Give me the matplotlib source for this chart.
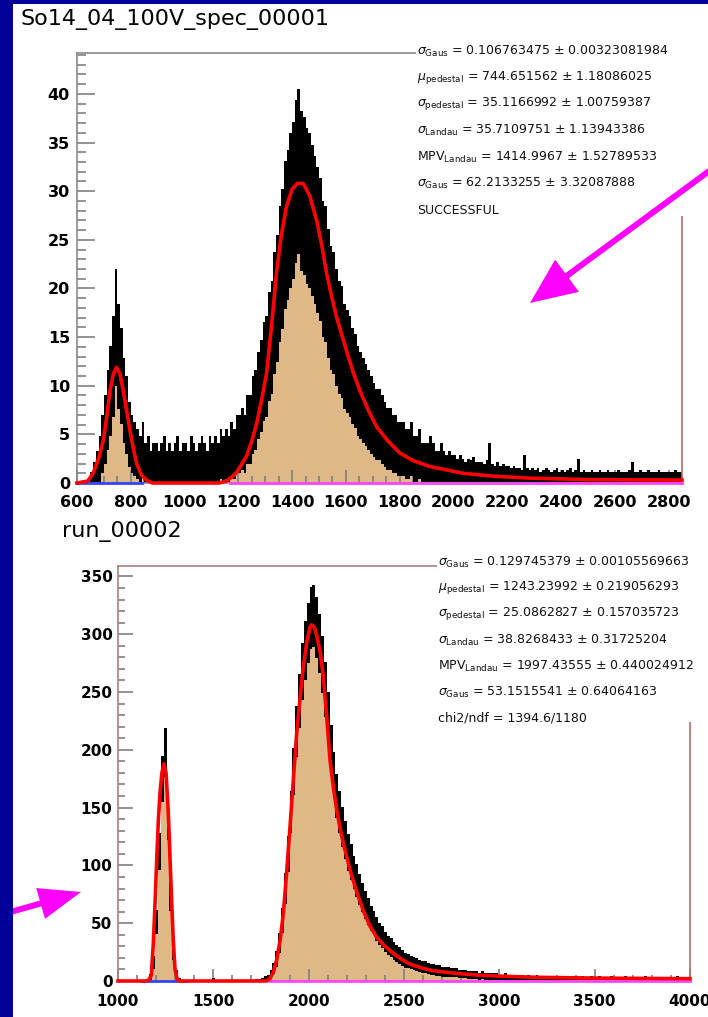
import numpy as np
import matplotlib.pyplot as plt
from matplotlib.patches import Rectangle, FancyArrow

W, H = 708, 1017

# ---- upper spectrum: So14_04_100V_spec_00001 (10-unit bins, 600..2850)
top_title = 'So14_04_100V_spec_00001'
top_edges = np.arange(600, 2851, 10)
top_counts = [
    0, 0, 0, 0, 0, 0.3, 0.8, 1.5, 2.5, 4,
    5.5, 7.5, 9.5, 12, 16, 13, 11, 8.5, 7, 5,
    4, 3.5, 3, 2.5, 3.5, 2, 2.5, 1.5, 2, 2,
    1.5, 2, 2.5, 1.5, 2, 1.5, 2, 2.5, 1.5, 2,
    2, 1.5, 2.5, 2, 1.5, 2, 2.5, 2, 1.5, 2.5,
    2, 2.5, 2, 3, 2.5, 3, 2.5, 3.5, 3, 4,
    4, 4.5, 4, 5.5, 5.5, 7, 7.5, 9, 10, 11.5,
    12, 14, 15, 17.5, 19, 21.5, 23, 25.5, 26.5, 28,
    29, 31, 32, 30, 29.5, 28.5, 28, 27, 26, 25,
    24, 22, 21.5, 19.5, 18, 17.5, 16, 15, 14.5, 13,
    12.5, 12, 11, 10.5, 9.5, 9, 8.5, 8, 7.5, 7,
    6.5, 6, 6, 5.5, 5, 4.5, 4.5, 4, 4, 3.5,
    3.5, 3.5, 3, 3, 3.5, 2.5, 2.5, 3, 2, 2,
    2, 2.5, 2, 1.5, 1.5, 2, 1.5, 1.2, 1.5, 1.2,
    1.2, 1, 1.2, 1, 0.8, 1, 0.9, 1.1, 0.8, 0.8,
    0.8, 0.7, 0.9, 2, 0.7, 0.6, 0.8, 0.6, 0.7, 0.6,
    0.6, 0.5, 0.6, 0.5, 0.5, 0.4, 1.2, 0.5, 0.4, 0.5,
    0.4, 0.5, 0.3, 0.4, 0.5, 0.4, 0.3, 0.4, 0.5, 0.3,
    0.4, 0.3, 0.4, 0.5, 0.3, 0.4, 1, 0.3, 0.4, 0.3,
    0.3, 0.4, 0.3, 0.3, 0.4, 0.3, 0.3, 0.4, 0.3, 0.3,
    0.3, 0.4, 0.3, 0.3, 0.3, 0.4, 0.8, 0.3, 0.3, 0.4,
    0.3, 0.3, 0.4, 0.3, 0.3, 0.3, 0.4, 0.3, 0.3, 0.3,
    0.3, 0.3, 0.4, 0.3, 0.3,
]
top_fit_x = [600, 640, 660, 680, 698, 710, 723, 735, 747, 760, 772, 785, 797,
             810, 822, 840, 859, 880, 1130, 1156, 1175, 1194, 1212, 1231, 1250,
             1268, 1287, 1305, 1323, 1342, 1360, 1379, 1400, 1420, 1441, 1466,
             1491, 1510, 1528, 1546, 1565, 1584, 1602, 1627, 1652, 1683, 1714,
             1757, 1800, 1850, 1912, 2035, 2150, 2284, 2500, 2850]
top_fit_y = [0, 0.2, 1.0, 2.5, 4.4, 6.7, 9.5, 11.2, 11.9, 11.2, 9.5, 7.4, 5.4,
             3.5, 2.0, 0.8, 0.3, 0, 0, 0.2, 0.6, 1.1, 1.9, 2.8, 4.3,
             6.1, 8.6, 11.3, 16, 21.6, 25.5, 28.4, 30.2, 30.8, 30.8, 29.5,
             27, 24.5, 21.6, 19.3, 17.1, 15.3, 13.6, 11.4, 9.5, 7.5, 5.8,
             4.3, 3.1, 2.3, 1.7, 1.0, 0.7, 0.5, 0.35, 0.3]
top_ped_range = [600, 840]
top_landau_range = [1170, 2850]
top_xticks = [600, 800, 1000, 1200, 1400, 1600, 1800, 2000, 2200, 2400, 2600, 2800]
top_yticks = [0, 5, 10, 15, 20, 25, 30, 35, 40]
top_stats = [
    r'$\sigma_{\mathrm{Gaus}}$ = 0.106763475 ± 0.00323081984',
    r'$\mu_{\mathrm{pedestal}}$ = 744.651562 ± 1.18086025',
    r'$\sigma_{\mathrm{pedestal}}$ = 35.1166992 ± 1.00759387',
    r'$\sigma_{\mathrm{Landau}}$ = 35.7109751 ± 1.13943386',
    r'MPV$_{\mathrm{Landau}}$ = 1414.9967 ± 1.52789533',
    r'$\sigma_{\mathrm{Gaus}}$ = 62.2133255 ± 3.32087888',
    'SUCCESSFUL',
]

# ---- lower spectrum: run_00002 (15-unit bins, 1000..4000)
bot_title = 'run_00002'
bot_edges = np.arange(1000, 4001, 15)
bot_counts = [
    0, 0, 0, 0, 0, 0, 0, 0, 0, 0,
    0.5, 3.5, 16, 51, 112, 175, 198, 140, 73, 26,
    6, 1, 0.3, 0, 0, 0, 0, 0, 0, 0,
    0, 0, 0, 1, 0, 0, 0, 0, 0, 0,
    0, 0, 0, 0, 0, 0, 0, 0, 0.5, 0.5,
    1, 2, 3, 6, 11, 19, 33, 52, 80, 110,
    146, 181, 216, 242, 268, 286, 301, 314, 316, 306,
    292, 274, 252, 227, 200, 178, 160, 146, 133, 122,
    111, 103, 94, 87, 79, 72, 66, 60, 54, 50,
    45, 41, 38, 34, 31, 29, 26, 24, 22, 20,
    18, 17, 16, 15, 14, 13, 12, 12, 11, 10,
    10, 9, 9, 8, 8, 8, 7, 7, 7, 6,
    6, 6, 5, 5, 5, 5, 4, 5, 4, 4,
    4, 4, 4, 3, 3, 4, 3, 3, 3, 3,
    3, 3, 2, 3, 2, 2, 3, 2, 2, 2,
    2, 2, 2, 2, 2, 1, 2, 2, 1, 2,
    2, 1, 2, 1, 1, 2, 1, 1, 2, 1,
    1, 1, 2, 1, 1, 1, 1, 2, 1, 1,
    1, 1, 1, 1, 2, 1, 1, 1, 1, 1,
    1, 1, 1, 1, 1, 2, 1, 1, 1, 1,
]
bot_fit_x = [1000, 1140, 1160, 1175, 1185, 1195, 1203, 1212, 1220, 1230, 1241,
             1252, 1264, 1272, 1281, 1290, 1299, 1310, 1320, 1780, 1797, 1815,
             1832, 1850, 1867, 1885, 1902, 1920, 1937, 1955, 1972, 1990, 2007,
             2016, 2030, 2042, 2060, 2077, 2095, 2112, 2130, 2147, 2165, 2182,
             2200, 2217, 2250, 2286, 2320, 2356, 2400, 2444, 2490, 2531, 2600,
             2650, 2725, 2800, 2900, 3000, 3200, 3500, 4000]
bot_fit_y = [0, 0, 0.5, 5, 32, 70, 105, 140, 162, 180, 188,
             180, 145, 110, 70, 35, 10, 2, 0, 0, 2, 8,
             18, 35, 58, 95, 133, 175, 214, 245, 272, 293, 306,
             308, 306, 299, 285, 263, 228, 191, 167, 148, 132, 119,
             107, 96, 78, 61, 48, 38, 30, 24, 18.5, 14.6, 11,
             9, 7.5, 6.2, 5, 4.2, 3.2, 2.5, 2]
bot_ped_range = [1125, 1360]
bot_landau_range = [1797, 4000]
bot_xticks = [1000, 1500, 2000, 2500, 3000, 3500, 4000]
bot_yticks = [0, 50, 100, 150, 200, 250, 300, 350]
bot_stats = [
    r'$\sigma_{\mathrm{Gaus}}$ = 0.129745379 ± 0.00105569663',
    r'$\mu_{\mathrm{pedestal}}$ = 1243.23992 ± 0.219056293',
    r'$\sigma_{\mathrm{pedestal}}$ = 25.0862827 ± 0.157035723',
    r'$\sigma_{\mathrm{Landau}}$ = 38.8268433 ± 0.31725204',
    r'MPV$_{\mathrm{Landau}}$ = 1997.43555 ± 0.440024912',
    r'$\sigma_{\mathrm{Gaus}}$ = 53.1515541 ± 0.64064163',
    'chi2/ndf = 1394.6/1180',
]

plt.rcParams['font.family'] = 'DejaVu Sans'

fig = plt.figure(figsize=(W / 100, H / 100), dpi=100)
fig.patch.set_facecolor('white')


def px_axes(left, top, right, bottom):
    return fig.add_axes([left / W, 1 - bottom / H, (right - left) / W, (bottom - top) / H])


def draw_spectrum(ax, edges, counts, fit_x, fit_y, ped, landau, frame):
    counts = np.asarray(counts, dtype=float)
    ax.stairs(counts, edges, fill=True, color='#deb887', lw=0, zorder=1)
    # black smear of the fine-binned histogram outline (statistical spread)
    spread = 1.5 * np.sqrt(counts)
    ax.stairs(counts + spread, edges, baseline=np.clip(counts - spread, 0, None),
              fill=True, color='black', lw=0, zorder=2)
    ax.plot(ped, [0, 0], color='#3344ff', lw=2, zorder=3, clip_on=False)
    ax.plot(landau, [0, 0], color='#ff44ff', lw=2, zorder=3, clip_on=False)
    ax.plot(fit_x, fit_y, color='red', lw=2.6, zorder=4, clip_on=False)
    for side in ['left', 'top', 'bottom']:
        ax.spines[side].set_color(frame)
        ax.spines[side].set_linewidth(1.2)
    ax.spines['right'].set_color('#c06868')
    ax.spines['right'].set_linewidth(1.2)


def style_ticks(ax, xticks, yticks, xminor, yminor, size, ylen, xlen, ypad, xpad):
    ax.set_xticks(xticks)
    ax.set_xticklabels([str(t) for t in xticks], fontweight='bold', fontsize=size)
    ax.set_yticks(yticks)
    ax.set_yticklabels([str(t) for t in yticks], fontweight='bold', fontsize=size)
    ax.set_xticks(xminor, minor=True)
    ax.set_yticks(yminor, minor=True)
    ax.tick_params(axis='both', which='both', direction='in', color='#808080',
                   width=1.2, top=False, right=False)
    ax.tick_params(axis='y', which='major', length=ylen, pad=ypad)
    ax.tick_params(axis='y', which='minor', length=ylen * 0.5)
    ax.tick_params(axis='x', which='major', length=xlen, pad=xpad)
    ax.tick_params(axis='x', which='minor', length=xlen * 0.5)


# upper panel
ax1 = px_axes(77, 53, 682, 483)
draw_spectrum(ax1, top_edges, top_counts, top_fit_x, top_fit_y,
              top_ped_range, top_landau_range, '#8a8a8a')
ax1.set_xlim(600, 2850)
ax1.set_ylim(0, 44.2)
style_ticks(ax1, top_xticks, top_yticks, np.arange(600, 2851, 50), np.arange(0, 45, 1),
            11.5, 13, 9.5, 5, 9)

# lower panel
ax2 = px_axes(118, 566, 690, 981)
draw_spectrum(ax2, bot_edges, bot_counts, bot_fit_x, bot_fit_y,
              bot_ped_range, bot_landau_range, '#a88080')
ax2.set_xlim(1000, 4000)
ax2.set_ylim(0, 359)
style_ticks(ax2, bot_xticks, bot_yticks, np.arange(1000, 4001, 100), np.arange(0, 360, 10),
            11, 10.5, 9, 4, 9)

# overlay in pixel coordinates: titles, stat boxes, arrows, frame
ov = fig.add_axes([0, 0, 1, 1], zorder=10)
ov.set_xlim(0, W)
ov.set_ylim(H, 0)
ov.axis('off')

ov.add_patch(Rectangle((416, 38), W - 416, 216 - 38, fc='white', ec='none'))
ov.add_patch(Rectangle((437, 548), W - 437, 722 - 548, fc='white', ec='none'))

for i, line in enumerate(top_stats):
    ov.text(417, 51 + i * 26.5, line, fontsize=9, color='#111111', va='center', ha='left')
for i, line in enumerate(bot_stats):
    ov.text(438, 562 + i * 26, line, fontsize=9, color='#111111', va='center', ha='left')

ov.text(20, 20, top_title, fontsize=16, va='center', ha='left')
ov.text(62, 531, bot_title, fontsize=16, va='center', ha='left')

ov.add_patch(FancyArrow(720, 163, -190, 140, width=6, head_width=40, head_length=46,
                        length_includes_head=True, color='#ff00ff', lw=0))
ov.add_patch(FancyArrow(0, 915, 81, -23, width=6, head_width=32, head_length=42,
                        length_includes_head=True, color='#ff00ff', lw=0))

ov.add_patch(Rectangle((0, 0), 13, H, fc='#000096', ec='none'))
ov.add_patch(Rectangle((0, 0), W, 4, fc='#000096', ec='none'))

fig.savefig('out.png', dpi=100)
